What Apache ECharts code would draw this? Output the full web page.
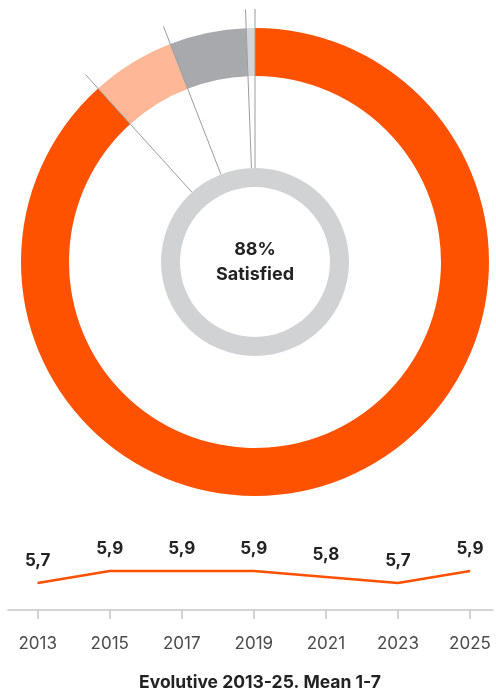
<!DOCTYPE html>
<html><head><meta charset="utf-8">
<script src="https://cdn.jsdelivr.net/npm/echarts@6/dist/echarts.min.js"></script>
<style>html,body{margin:0;padding:0;background:#fff}#c{width:496px;height:693px}</style>
</head><body><div id="c"></div>
<script>
// ---- data ----
const sliceNames = ['Satisfied', 'Neutral', 'Dissatisfied', 'DK/NA'];
const sliceValues = [88.3, 5.8, 5.3, 0.6];
const sliceColors = ['#ff5200', '#ffb897', '#a8a9ac', '#d3d4d6'];
const centerPct = '88%';
const centerLabel = 'Satisfied';
const years = ['2013', '2015', '2017', '2019', '2021', '2023', '2025'];
const means = [5.7, 5.9, 5.9, 5.9, 5.8, 5.7, 5.9];
const footTitle = 'Evolutive 2013-25. Mean 1-7';

const FONT = 'Inter, "Noto Sans", sans-serif';
const chart = echarts.init(document.getElementById('c'), null, {renderer: 'canvas'});

// boundaries between slices (cumulative percentages)
const total = sliceValues.reduce((a, b) => a + b, 0);
const bounds = [0];
let acc = 0;
for (let i = 0; i < sliceValues.length - 1; i++) { acc += sliceValues[i]; bounds.push(acc / total * 100); }

const boundarySeries = bounds.map(b => ({
  type: 'line', coordinateSystem: 'polar', polarIndex: 0,
  data: [[94, b], [253, b]], symbol: 'none', silent: true, z: 10,
  lineStyle: {color: '#9c9c9c', width: 1}, animation: false
}));

const option = {
  animation: false,
  backgroundColor: '#fff',
  textStyle: {fontFamily: FONT},
  title: {
    text: footTitle, left: 255, top: 669, textAlign: 'center',
    textStyle: {fontFamily: FONT, fontSize: 17.5, fontWeight: 'bold', color: '#222'}
  },
  polar: {center: [255, 262], radius: 253},
  angleAxis: {type: 'value', min: 0, max: 100, startAngle: 90, clockwise: true, show: false},
  radiusAxis: {type: 'value', min: 0, max: 253, show: false},
  grid: [
    {left: 37.7, right: 26, top: 550, height: 60},
    {left: 8, right: 3, top: 550, height: 60}
  ],
  xAxis: [
    {
      gridIndex: 0, type: 'category', boundaryGap: false, data: years,
      axisLine: {show: false},
      axisTick: {show: true, length: 9, lineStyle: {color: '#c6c6c6', width: 1.5}},
      axisLabel: {color: '#4a4a4a', fontSize: 17, fontFamily: FONT, margin: 25}
    },
    {
      gridIndex: 1, type: 'category', data: [''],
      axisLine: {show: true, onZero: false, lineStyle: {color: '#c8c8c8', width: 1.5}},
      axisTick: {show: false}, axisLabel: {show: false}
    }
  ],
  yAxis: [
    {gridIndex: 0, type: 'value', min: 5.25, max: 6.25, show: false},
    {gridIndex: 1, type: 'value', show: false}
  ],
  series: [
    {
      type: 'pie', center: [255, 262], radius: [186, 234], startAngle: 90, clockwise: true,
      silent: true, label: {show: false}, labelLine: {show: false}, emphasis: {disabled: true},
      data: sliceNames.map((n, i) => ({name: n, value: sliceValues[i], itemStyle: {color: sliceColors[i]}}))
    },
    {
      type: 'pie', center: [255, 262], radius: [75, 94], silent: true, emphasis: {disabled: true},
      data: [{name: centerLabel, value: 1, itemStyle: {color: '#d1d2d4'}}],
      label: {
        show: true, position: 'center',
        formatter: '{a|' + centerPct + '}\n{a|' + centerLabel + '}',
        rich: {a: {fontFamily: FONT, fontSize: 18, fontWeight: 'bold', color: '#222', lineHeight: 25}}
      },
      labelLine: {show: false}
    },
    ...boundarySeries,
    {
      type: 'line', xAxisIndex: 0, yAxisIndex: 0, data: means,
      symbol: 'circle', symbolSize: 1, itemStyle: {color: '#ff5000'},
      lineStyle: {color: '#ff5000', width: 2.5},
      label: {
        show: true, position: 'top', distance: 13,
        formatter: p => p.value.toFixed(1).replace('.', ','),
        fontFamily: FONT, fontSize: 17, fontWeight: 'bold', color: '#222'
      }
    }
  ]
};
chart.setOption(option);
</script></body></html>
